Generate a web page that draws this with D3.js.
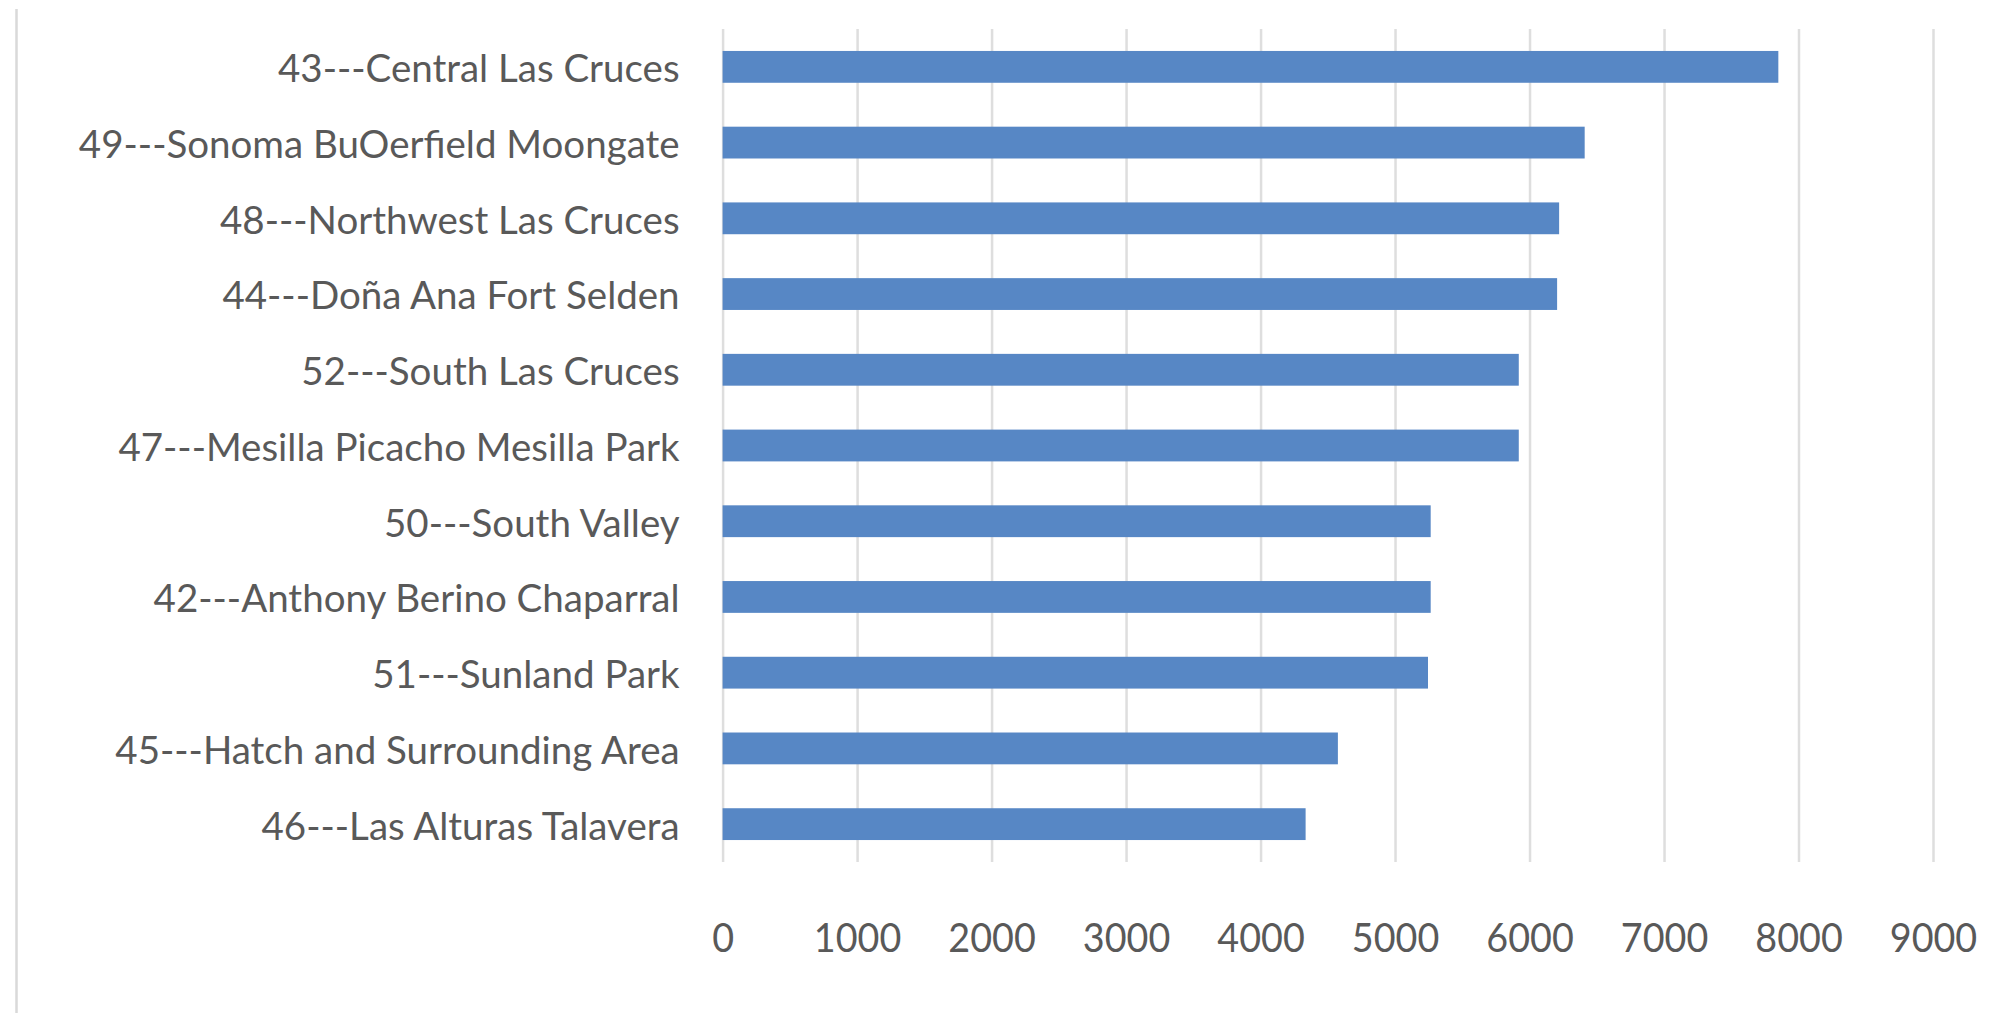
<!DOCTYPE html>
<html>
<head>
<meta charset="utf-8">
<script src="https://cdn.jsdelivr.net/npm/d3@7"></script>
<style>
  body { margin: 0; background: #fff; }
  svg { display: block; }
</style>
</head>
<body>
<svg id="chart"></svg>
<script>
// values
const districts = [
    '43---Central Las Cruces',
    '49---Sonoma BuOerfield Moongate',
    '48---Northwest Las Cruces',
    '44---Doña Ana Fort Selden',
    '52---South Las Cruces',
    '47---Mesilla Picacho Mesilla Park',
    '50---South Valley',
    '42---Anthony Berino Chaparral',
    '51---Sunland Park',
    '45---Hatch and Surrounding Area',
    '46---Las Alturas Talavera'
];
const counts = [7850, 6410, 6220, 6205, 5920, 5920, 5265, 5265, 5245, 4575, 4335];
const xTicks = [0, 1000, 2000, 3000, 4000, 5000, 6000, 7000, 8000, 9000];

const W = 2010, H = 1013;
const margin = { top: 29, left: 722.6, right: 77, bottom: 151 };

const svg = d3.select('#chart').attr('width', W).attr('height', H);

// faint border on the left edge of the chart area
svg.append('line')
    .attr('x1', 16.5).attr('x2', 16.5)
    .attr('y1', 9).attr('y2', H)
    .attr('stroke', '#d9d9d9')
    .attr('stroke-width', 2.5);

const x = d3.scaleLinear()
    .domain([0, 9000])
    .range([margin.left, W - margin.right]);

const y = d3.scaleBand()
    .domain(districts)
    .range([margin.top, H - margin.bottom])
    .paddingInner(0.58)
    .paddingOuter(0.29);

const plotBottom = H - margin.bottom;

// gridlines + tick labels
const xAxis = svg.append('g')
    .attr('transform', `translate(0,${plotBottom})`)
    .call(d3.axisBottom(x)
        .tickValues(xTicks)
        .tickFormat(d3.format('d'))
        .tickSize(-(plotBottom - margin.top))
        .tickSizeOuter(0));

xAxis.select('.domain').remove();
xAxis.selectAll('.tick line')
    .attr('stroke', '#dedede')
    .attr('stroke-width', 2.5);
xAxis.selectAll('.tick text')
    .attr('y', 90)
    .attr('dy', 0)
    .attr('fill', '#595959')
    .attr('font-family', 'Lato, sans-serif')
    .attr('font-size', 41)
    .attr('transform', 'scale(0.92,1)');

svg.append('g')
    .selectAll('rect')
    .data(counts)
    .join('rect')
    .attr('x', x(0))
    .attr('y', (d, i) => y(districts[i]))
    .attr('width', d => x(d) - x(0))
    .attr('height', y.bandwidth())
    .attr('fill', '#5787c5');

// category labels
const yAxis = svg.append('g')
    .attr('transform', `translate(${margin.left},0)`)
    .call(d3.axisLeft(y).tickSize(0).tickPadding(43));

yAxis.select('.domain').remove();
yAxis.selectAll('.tick text')
    .attr('dy', '0.4em')
    .attr('fill', '#595959')
    .attr('font-family', 'Lato, sans-serif')
    .attr('font-size', 38.5);
</script>
</body>
</html>
